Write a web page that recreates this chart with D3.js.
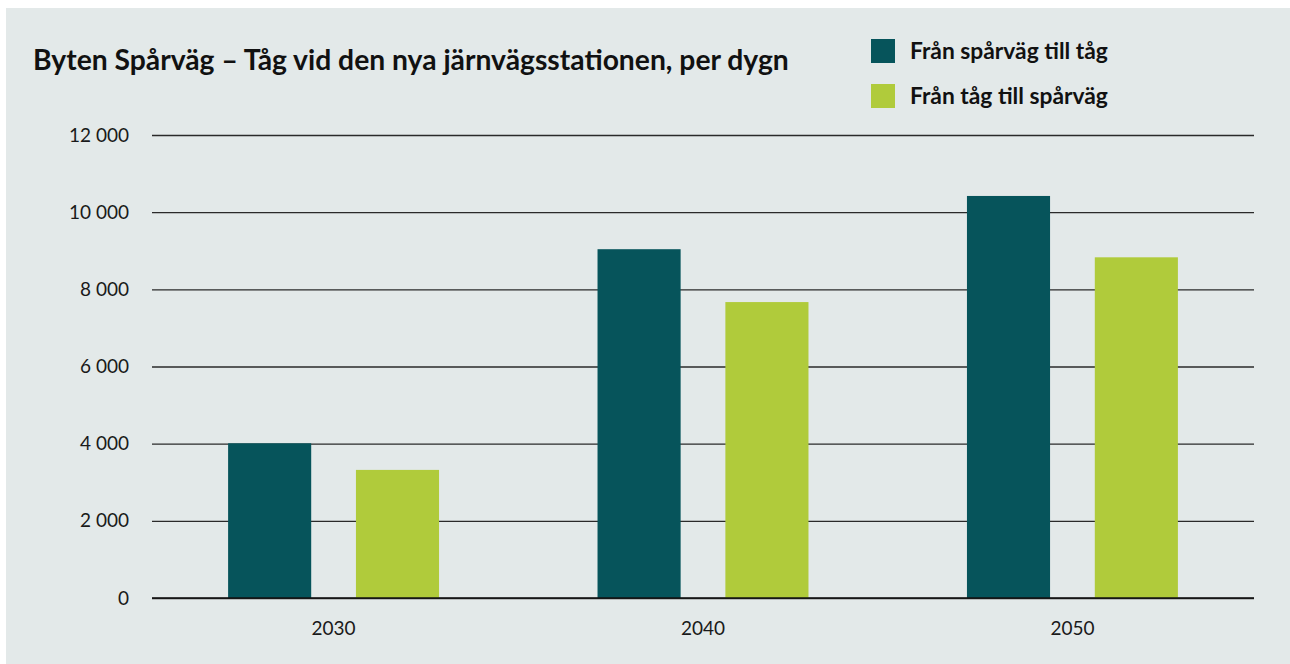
<!DOCTYPE html>
<html>
<head>
<meta charset="utf-8">
<script src="https://cdn.jsdelivr.net/npm/d3@7"></script>
<style>
  body { margin: 0; background: #fff; }
  text { font-family: Lato, "Noto Sans", sans-serif; }
</style>
</head>
<body>
<script>
// data
var years = ["2030", "2040", "2050"];
var seriesNames = ["Från spårväg till tåg", "Från tåg till spårväg"];
var sparvagTillTag = [4010, 9040, 10420];
var tagTillSparvag = [3320, 7670, 8830];
var yTicks = [0, 2000, 4000, 6000, 8000, 10000, 12000];

var colors = ["#06545b", "#b0cb3b"];

var W = 1290, H = 664;
var margin = {top: 135, right: 36, bottom: 66, left: 152};

var svg = d3.select("body")
  .append("svg")
  .attr("width", W)
  .attr("height", H);

// panel
svg.append("rect")
  .attr("x", 6).attr("y", 8)
  .attr("width", W - 6).attr("height", H - 8)
  .attr("fill", "#e3e9e9");

var x0 = d3.scaleBand()
  .domain(years)
  .range([margin.left, W - margin.right])
  .paddingInner(0.429)
  .paddingOuter(0.206);

var x1 = d3.scaleBand()
  .domain([0, 1])
  .range([0, x0.bandwidth()])
  .paddingInner(0.35);

var y = d3.scaleLinear()
  .domain([0, 12000])
  .range([598, 135]);

var fmt = function(d) { return d3.format(",")(d).replace(/,/g, " "); };

// gridlines + y labels
var yAxis = d3.axisLeft(y)
  .tickValues(yTicks)
  .tickSize(-(W - margin.right - margin.left))
  .tickPadding(23)
  .tickFormat(fmt);

var gy = svg.append("g")
  .attr("transform", "translate(" + margin.left + ",0)")
  .call(yAxis);
gy.select(".domain").remove();
gy.selectAll(".tick line")
  .attr("stroke", "#2a2a2a")
  .attr("stroke-width", 1.3);
gy.selectAll(".tick text")
  .attr("fill", "#1a1a1a")
  .style("font-size", "19px");

// bars
var rows = years.map(function(yr, i) {
  return {year: yr, values: [sparvagTillTag[i], tagTillSparvag[i]]};
});

var groups = svg.append("g")
  .selectAll("g")
  .data(rows)
  .enter().append("g")
  .attr("transform", function(d) { return "translate(" + x0(d.year) + ",0)"; });

groups.selectAll("rect")
  .data(function(d) { return d.values; })
  .enter().append("rect")
  .attr("x", function(d, i) { return x1(i); })
  .attr("width", x1.bandwidth())
  .attr("y", function(d) { return y(d); })
  .attr("height", function(d) { return y(0) - y(d); })
  .attr("fill", function(d, i) { return colors[i]; });

// zero line on top
svg.append("line")
  .attr("x1", margin.left).attr("x2", W - margin.right)
  .attr("y1", y(0)).attr("y2", y(0))
  .attr("stroke", "#111")
  .attr("stroke-width", 1.5);

// x labels
var xAxis = d3.axisBottom(x0).tickSize(0).tickPadding(24);
var gx = svg.append("g")
  .attr("transform", "translate(0," + y(0) + ")")
  .call(xAxis);
gx.select(".domain").remove();
gx.selectAll(".tick text")
  .attr("fill", "#1a1a1a")
  .style("font-size", "19px");

// title, sized to the reference width
var title = svg.append("text")
  .attr("x", 33).attr("y", 70)
  .attr("font-weight", 700)
  .style("font-size", "25px")
  .attr("fill", "#111")
  .text("Byten Spårväg – Tåg vid den nya järnvägsstationen, per dygn");
var tw = title.node().getComputedTextLength();
title.style("font-size", (25 * 756 / tw) + "px");

// legend
var legend = svg.append("g")
  .selectAll("g")
  .data(seriesNames)
  .enter().append("g")
  .attr("transform", function(d, i) { return "translate(871," + (39 + i * 45) + ")"; });

legend.append("rect")
  .attr("width", 24).attr("height", 24)
  .attr("fill", function(d, i) { return colors[i]; });

var legText = legend.append("text")
  .attr("x", 39).attr("y", 20)
  .attr("font-weight", 700)
  .style("font-size", "19px")
  .attr("fill", "#111")
  .text(function(d) { return d; });
var lw = legText.node().getComputedTextLength();
legText.style("font-size", (19 * 198 / lw) + "px");
</script>
</body>
</html>
